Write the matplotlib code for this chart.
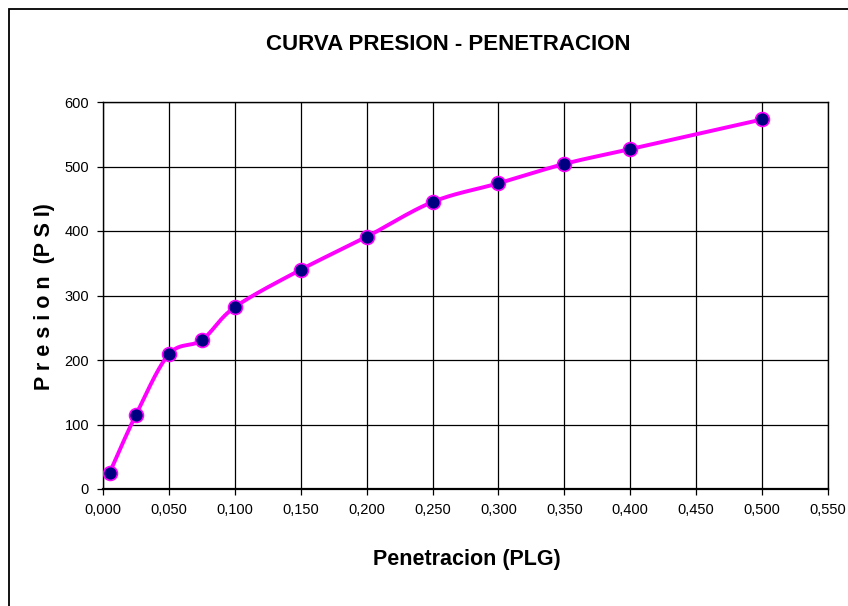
import numpy as np
import matplotlib
matplotlib.use("Agg")
import matplotlib.pyplot as plt
from matplotlib.ticker import FuncFormatter
from matplotlib.patches import Rectangle

plt.rcParams['font.family'] = ['Liberation Sans', 'DejaVu Sans']

# Penetration (in) vs pressure (psi)
penetracion = [0.005, 0.025, 0.050, 0.075, 0.100, 0.150, 0.200, 0.250, 0.300, 0.350, 0.400, 0.500]
presion = [25, 115, 209, 231, 282, 340, 391, 445, 474, 504, 527, 573]

x_ticks = [0.0, 0.05, 0.10, 0.15, 0.20, 0.25, 0.30, 0.35, 0.40, 0.45, 0.50, 0.55]
y_ticks = [0, 100, 200, 300, 400, 500, 600]


def smooth_curve(xs, ys, n=30):
    """Catmull-Rom style smoothing through every point (Bezier with 1/6 tangents)."""
    xs = np.asarray(xs, float)
    ys = np.asarray(ys, float)
    pts = np.column_stack([xs, ys])
    out = []
    m = len(pts)
    for i in range(m - 1):
        p0 = pts[i - 1] if i > 0 else pts[i]
        p1 = pts[i]
        p2 = pts[i + 1]
        p3 = pts[i + 2] if i + 2 < m else pts[i + 1]
        c1 = p1 + (p2 - p0) / 6.0
        c2 = p2 - (p3 - p1) / 6.0
        t = np.linspace(0, 1, n)[:, None]
        seg = ((1 - t) ** 3) * p1 + 3 * ((1 - t) ** 2) * t * c1 + 3 * (1 - t) * t ** 2 * c2 + t ** 3 * p2
        out.append(seg if i == 0 else seg[1:])
    seg = np.vstack(out)
    return seg[:, 0], seg[:, 1]


fig = plt.figure(figsize=(8.48, 6.06), dpi=100)
fig.patch.set_facecolor('white')

# chart frame
fig.add_artist(Rectangle((9 / 848, -0.01), 1.0, 1 - 9 / 606 + 0.01, transform=fig.transFigure,
                         fill=False, edgecolor='black', linewidth=1.3))

ax = fig.add_axes([103 / 848, 1 - 489 / 606, (828 - 103) / 848, (489 - 102) / 606])
ax.set_xlim(0, 0.55)
ax.set_ylim(0, 600)
ax.set_xticks(x_ticks)
ax.set_yticks(y_ticks)
ax.xaxis.set_major_formatter(FuncFormatter(lambda v, p: f"{v:.3f}".replace('.', ',')))
ax.yaxis.set_major_formatter(FuncFormatter(lambda v, p: f"{v:.0f}"))
ax.grid(True, color='black', linewidth=0.9)
ax.set_axisbelow(True)
for s in ax.spines.values():
    s.set_color('black')
    s.set_linewidth(1.0)
ax.spines['bottom'].set_linewidth(1.6)
ax.tick_params(direction='out', length=4, width=0.9, labelsize=10.5, colors='black', pad=6)

sx, sy = smooth_curve(penetracion, presion)
ax.plot(sx, sy, color='#FF00FF', linewidth=2.8, solid_capstyle='round', zorder=3)
ax.plot(penetracion, presion, linestyle='none', marker='o', markersize=10,
        markerfacecolor='#000080', markeredgecolor='#FF00FF', markeredgewidth=1.2, zorder=4)

fig.text(448 / 848, 1 - 45 / 606, 'CURVA PRESION - PENETRACION', ha='center', va='center',
         fontsize=16, fontweight='bold')
fig.text(467 / 848, 1 - 559 / 606, 'Penetracion (PLG)', ha='center', va='center',
         fontsize=15.5, fontweight='bold')
fig.text(45 / 848, 1 - 297 / 606, 'P r e s i o n  (P S I)', ha='center', va='center',
         fontsize=15.5, fontweight='bold', rotation=90)

fig.savefig('out.png', dpi=100, facecolor='white')
